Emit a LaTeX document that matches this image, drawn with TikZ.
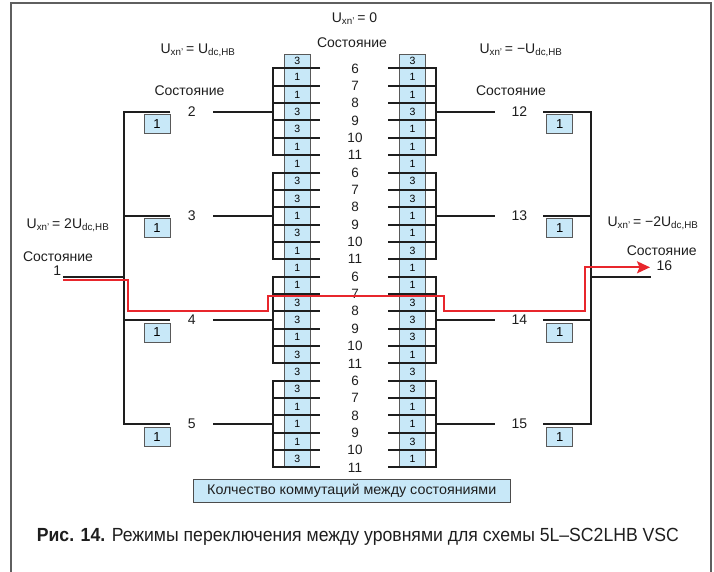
\documentclass[tikz,border=0pt]{standalone}
\usepackage{fontspec}
\setmainfont{Liberation Sans}
\usetikzlibrary{arrows.meta}
\definecolor{boxblue}{HTML}{C8E8F8}
\definecolor{redline}{HTML}{E8262C}
\definecolor{framegray}{HTML}{5F5F5F}
\definecolor{ink}{HTML}{1E1E1E}
\tikzset{
  wire/.style={line width=2pt, draw=ink},
  cell/.style={draw=black!65, fill=boxblue, line width=0.6pt, inner sep=0pt, minimum width=26pt, font=\fontsize{10.5}{10.5}\selectfont},
  statebox/.style={draw=black!65, fill=boxblue, line width=0.8pt, inner sep=0pt, minimum width=26pt, minimum height=19pt, font=\fontsize{13}{13}\selectfont},
  lbl/.style={inner sep=0pt, text=ink, font=\fontsize{14}{14}\selectfont},
  num/.style={inner sep=0pt, text=ink, font=\fontsize{13.5}{13.5}\selectfont},
  redpath/.style={draw=redline, line width=1.9pt},
}
\begin{document}
\begin{tikzpicture}[x=1pt,y=-1pt]
\useasboundingbox (0,0) rectangle (714,571);
\draw[framegray, line width=2pt] (11,575) -- (11,3) -- (711,3) -- (711,575);

% columns of boxes
\foreach \v [count=\k from 0] in {3,1,1,3,3,1, 1,3,3,1,3,1, 1,1,3,3,1,3, 3,3,1,1,1,3} {
  \pgfmathsetmacro\yb{68.4+\k*17.35}
  \pgfmathsetmacro\yt{\k==0 ? 54 : \yb-17.35}
  \pgfmathsetmacro\hh{\yb-\yt}
  \node[cell, minimum height=\hh pt] (L\k) at (297.2,{(\yt+\yb)/2}) {\v};
}
\foreach \v [count=\k from 0] in {3,1,1,3,1,1, 1,3,3,1,1,3, 1,1,3,3,3,1, 3,3,1,1,3,1} {
  \pgfmathsetmacro\yb{68.4+\k*17.35}
  \pgfmathsetmacro\yt{\k==0 ? 54 : \yb-17.35}
  \pgfmathsetmacro\hh{\yb-\yt}
  \node[cell, minimum height=\hh pt] (R\k) at (412.5,{(\yt+\yb)/2}) {\v};
}
% horizontal lines and numbers
\foreach \k in {0,...,23} {
  \pgfmathsetmacro\yb{68.4+\k*17.35}
  \pgfmathtruncatemacro\n{6+mod(\k,6)}
  \coordinate (LA\k) at (272.7,\yb);
  \coordinate (LB\k) at (320,\yb);
  \coordinate (RA\k) at (388.3,\yb);
  \coordinate (RB\k) at (435.7,\yb);
  \node[num] (N\k) at (355,\yb) {\n};
}
\foreach \g/\sl/\sr in {0/2/12, 1/3/13, 2/4/14, 3/5/15} {
  \pgfmathtruncatemacro\ka{6*\g}
  \pgfmathtruncatemacro\kb{6*\g+5}
  \pgfmathsetmacro\ym{68.4+(6*\g+2.5)*17.35}
  % left bracket
  \foreach \i in {1,...,4} {
    \pgfmathtruncatemacro\kk{\ka+\i}
    \draw[wire] (LA\kk) -- (LB\kk);
  }
  \draw[wire, line join=miter] (LB\ka) -- (LA\ka) -- (LA\kb) -- (LB\kb);
  \foreach \i in {1,...,4} {
    \pgfmathtruncatemacro\kk{\ka+\i}
    \draw[wire] (RA\kk) -- (RB\kk);
  }
  \draw[wire, line join=miter] (RA\ka) -- (RB\ka) -- (RB\kb) -- (RA\kb);
  \coordinate (LM\g) at (272.7,\ym);
  \coordinate (RM\g) at (435.7,\ym);
  % state labels
  \node[lbl, minimum width=42.3pt] (S\sl) at (191.8,\ym) {\sl};
  \node[lbl, minimum width=47.3pt] (S\sr) at (519.3,\ym) {\sr};
  \draw[wire] (S\sl.east) -- (LM\g);
  \draw[wire] (RM\g) -- (S\sr.west);
  \coordinate (LV\g) at (124,\ym);
  \coordinate (RV\g) at (590.7,\ym);
  \node[statebox] (B\sl) at (157,{\ym+12.5}) {1};
  \node[statebox] (B\sr) at (559.7,{\ym+12.5}) {1};
}
\draw[wire, line join=miter] (S2.west) -- (LV0) -- (LV3) -- (S5.west);
\draw[wire] (LV1) -- (S3.west);
\draw[wire] (LV2) -- (S4.west);
\draw[wire, line join=miter] (S12.east) -- (RV0) -- (RV3) -- (S15.east);
\draw[wire] (RV1) -- (S13.east);
\draw[wire] (RV2) -- (S14.east);

% state 1 and 16
\coordinate (P1) at (63.3,276.7);
\coordinate (J1) at (124,276.7);
\draw[wire] (P1) -- (J1);
\node[lbl] (T1) at (58,256.5) {Состояние};
\node[lbl] (S1) at (57.3,270.5) {1};
\coordinate (J16) at (590.7,276.7);
\coordinate (P16) at (650.7,276.7);
\draw[wire] (J16) -- (P16);
\node[lbl] (T16) at (661.7,250.5) {Состояние};
\node[lbl] (S16) at (664.3,265.5) {16};

% headings
\node[lbl] (U0) at (354.5,19) {U\textsubscript{xn’}\,= 0};
\node[lbl] (T0) at (352,42.7) {Состояние};
\node[lbl] (UL) at (198,50) {U\textsubscript{xn’}\,= U\textsubscript{dc,HB}};
\node[lbl] (TL) at (189.5,90.7) {Состояние};
\node[lbl] (UR) at (521,50) {U\textsubscript{xn’}\,= −U\textsubscript{dc,HB}};
\node[lbl] (TR) at (511,90.7) {Состояние};
\node[lbl] (UL2) at (68,225) {U\textsubscript{xn’}\,= 2U\textsubscript{dc,HB}};
\node[lbl] (UR2) at (653,223) {U\textsubscript{xn’}\,= −2U\textsubscript{dc,HB}};

% red path
\coordinate (R0) at (63.3,280);
\coordinate (Ra) at (128.3,280);
\coordinate (Rb) at (128.3,310.7);
\coordinate (Rc) at (268.3,310.7);
\coordinate (Rd) at (268.3,295.7);
\coordinate (Re) at (444,295.7);
\coordinate (Rf) at (444,310.7);
\coordinate (Rg) at (584.7,310.7);
\coordinate (Rh) at (584.7,267.3);
\coordinate (Ri) at (650,267.3);
\draw[redpath, line join=miter, -{Stealth[length=13pt,width=12pt,inset=2.5pt]}]
  (R0) -- (Ra) -- (Rb) -- (Rc) -- (Rd) -- (Re) -- (Rf) -- (Rg) -- (Rh) -- (Ri);

% legend
\node[draw=black!70, fill=boxblue, line width=0.8pt, minimum width=316.7pt, minimum height=23pt, inner sep=0pt, text=ink] (legend) at (351.7,490.8)
  {\resizebox{289pt}{\height}{\fontsize{14}{14}\selectfont Колчество коммутаций между состояниями}};

% caption
\node[anchor=west, inner sep=0pt, text=ink] (caption) at (36.7,536.7)
  {\resizebox{642pt}{\height}{\fontsize{19}{19}\selectfont\textbf{Рис. 14.} Режимы переключения между уровнями для схемы 5L–SC2LHB VSC}};
\end{tikzpicture}
\end{document}
